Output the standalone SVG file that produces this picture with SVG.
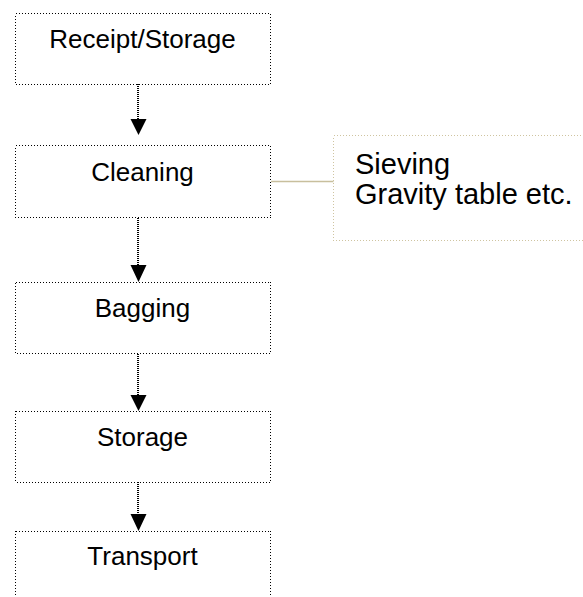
<svg xmlns="http://www.w3.org/2000/svg" width="583" height="597" viewBox="0 0 583 597">
<style>
.box{fill:#fff;stroke:#000;stroke-width:1;stroke-dasharray:1 2;shape-rendering:crispEdges}
.lbl{font-family:"Liberation Sans",Arial,sans-serif;font-size:26px;fill:#000;text-anchor:middle}
.note{fill:#fff;stroke:#cfc4a0;stroke-width:1;stroke-dasharray:1 2;shape-rendering:crispEdges}
.ntxt{font-family:"Liberation Sans",Arial,sans-serif;font-size:29px;fill:#000}
.arr{stroke:#000;stroke-width:2;stroke-dasharray:1 1;fill:none;shape-rendering:crispEdges}
.head{fill:#000}
</style>
<rect width="583" height="597" fill="#fff"/>
<g id="connectors">
<line class="arr" x1="138" y1="84" x2="138" y2="120"/>
<polygon class="head" points="130.5,119 146.5,119 138.5,135"/>
<line class="arr" x1="138" y1="218" x2="138" y2="266"/>
<polygon class="head" points="130.5,265 146.5,265 138.5,282"/>
<line class="arr" x1="138" y1="354" x2="138" y2="396"/>
<polygon class="head" points="130.5,395 146.5,395 138.5,411"/>
<line class="arr" x1="138" y1="482" x2="138" y2="515"/>
<polygon class="head" points="130.5,514 146.5,514 138.5,531"/>
<line x1="270.5" y1="181.5" x2="333.5" y2="181.5" stroke="#c8bf9d" stroke-width="1.5"/>
</g>
<g id="receipt">
<rect class="box" x="15.5" y="13.5" width="255" height="70.5"/>
<text class="lbl" x="142.5" y="48">Receipt/Storage</text>
</g>
<g id="cleaning">
<rect class="box" x="15.5" y="145.5" width="255" height="72"/>
<text class="lbl" x="142.5" y="181">Cleaning</text>
</g>
<g id="bagging">
<rect class="box" x="15.5" y="282" width="255" height="71.5"/>
<text class="lbl" x="142.5" y="317">Bagging</text>
</g>
<g id="storage">
<rect class="box" x="15.5" y="411" width="255" height="71"/>
<text class="lbl" x="142.5" y="445.5">Storage</text>
</g>
<g id="transport">
<rect class="box" x="15.5" y="531" width="255" height="71"/>
<text class="lbl" x="142.5" y="565">Transport</text>
</g>
<g id="note">
<rect class="note" x="333.5" y="135.5" width="260" height="104.5"/>
<text class="ntxt" x="355" y="174">Sieving</text>
<text class="ntxt" x="355" y="204">Gravity table etc.</text>
</g>
</svg>
